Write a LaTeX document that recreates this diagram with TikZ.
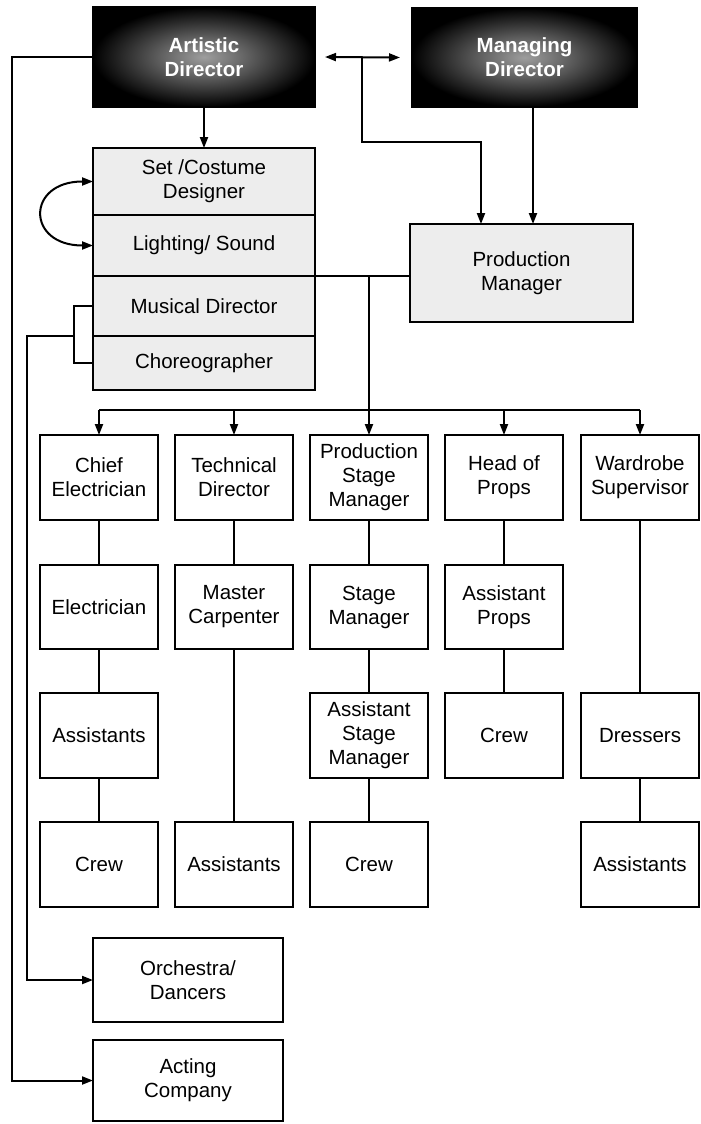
\documentclass[tikz,border=0pt]{standalone}
\usepackage{fontspec}
\setmainfont{Liberation Sans}
\usetikzlibrary{arrows.meta,calc}
\tikzset{
  ln/.style={line width=2pt},
  arr/.style={ln,-{Triangle[length=11pt,width=8pt]}},
  arrtwo/.style={ln,{Triangle[length=11pt,width=8pt]}-{Triangle[length=11pt,width=8pt]}},
  box/.style={draw,line width=2pt,inner sep=0pt,outer sep=0pt,align=center,
    font=\fontsize{20.5}{24}\selectfont,minimum width=118pt,minimum height=85pt},
  stip/.style={box,fill=black!7,minimum width=222pt},
  dark/.style={draw,line width=2pt,inner sep=0pt,outer sep=0pt,align=center,
    text=white,font=\fontsize{20.5}{24}\selectfont\bfseries,
    path picture={\shade[inner color=black!38,outer color=black]
      (path picture bounding box.south west) rectangle (path picture bounding box.north east);}},
}
\begin{document}
\begin{tikzpicture}[x=1pt,y=-1pt]
\useasboundingbox[fill=white] (0,0) rectangle (701,1124);
% top
\node[dark,minimum width=222pt,minimum height=100pt] (ad) at (204,57) {Artistic\\Director};
\node[dark,minimum width=225pt,minimum height=99pt] (md) at (524.5,57.5) {Managing\\Director};
% design stack
\node[stip,minimum height=67pt] (set) at (204,181.5) {Set /Costume\\Designer};
\node[stip,minimum height=61pt] (light) at (204,245.5) {Lighting/ Sound};
\node[stip,minimum height=60pt] (mus) at (204,306) {Musical Director};
\node[stip,minimum height=54pt] (chor) at (204,363) {Choreographer};
% production manager
\node[stip,minimum width=223pt,minimum height=98pt] (pm) at (521.5,273) {Production\\Manager};
% department columns
\node[box] (ce) at (99,477.5) {Chief\\Electrician};
\node[box] (td) at (234,477.5) {Technical\\Director};
\node[box] (psm) at (369,477.5) {Production\\Stage\\Manager};
\node[box] (hp) at (504,477.5) {Head of\\Props};
\node[box] (ws) at (640,477.5) {Wardrobe\\Supervisor};
\node[box,minimum height=84pt] (el) at (99,607) {Electrician};
\node[box,minimum height=84pt] (mc) at (234,607) {Master\\Carpenter};
\node[box,minimum height=84pt] (sm) at (369,607) {Stage\\Manager};
\node[box,minimum height=84pt] (ap) at (504,607) {Assistant\\Props};
\node[box] (as1) at (99,735.5) {Assistants};
\node[box] (asm) at (369,735.5) {Assistant\\Stage\\Manager};
\node[box] (cr4) at (504,735.5) {Crew};
\node[box] (dr) at (640,735.5) {Dressers};
\node[box] (cr1) at (99,864.5) {Crew};
\node[box] (as2) at (234,864.5) {Assistants};
\node[box] (cr3) at (369,864.5) {Crew};
\node[box] (as5) at (640,864.5) {Assistants};
% performers
\node[box,minimum width=190pt,minimum height=84pt] (orch) at (188,980) {Orchestra/\\Dancers};
\node[box,minimum width=190pt,minimum height=81pt] (act) at (188,1080.5) {Acting\\Company};
% helper coordinates
\coordinate (J) at (362,0);
\coordinate (K) at (481,142);
\coordinate (M) at (533,0);
\coordinate (L1) at (12,0);
\coordinate (L2) at (27,0);
\coordinate (B) at (74,0);
\coordinate (bus) at (0,410);
% top connectors
\draw[arrtwo] ([xshift=10pt]ad.east) -- ([xshift=-12pt]md.west);
\draw[arr] (ad.east -| J) |- (K) -- (K |- pm.north);
\draw[arr] (md.south -| M) -- (pm.north -| M);
\draw[arr] (ad.south) -- (set.north);
\draw[arrtwo] (set.west) .. controls +(-67,0) and +(-67,0) .. (light.west);
% production manager to bus
\draw[ln] (light.south east) -- (light.south east -| pm.west);
\draw[arr] (light.south east -| psm.north) -- (psm.north);
\draw[ln] (bus -| ce.north) -- (bus -| ws.north);
\foreach \n in {ce,td,hp,ws} \draw[arr] (bus -| \n.north) -- (\n.north);
% columns
\draw[ln] (ce.south) -- (el.north);
\draw[ln] (el.south) -- (as1.north);
\draw[ln] (as1.south) -- (cr1.north);
\draw[ln] (td.south) -- (mc.north);
\draw[ln] (mc.south) -- (as2.north);
\draw[ln] (psm.south) -- (sm.north);
\draw[ln] (sm.south) -- (asm.north);
\draw[ln] (asm.south) -- (cr3.north);
\draw[ln] (hp.south) -- (ap.north);
\draw[ln] (ap.south) -- (cr4.north);
\draw[ln] (ws.south) -- (dr.north);
\draw[ln] (dr.south) -- (as5.north);
% left connectors
\draw[arr] (ad.west) -- (ad.west -| L1) |- (act.west);
\draw[ln] (mus.west) -- (mus.west -| B) -- (chor.west -| B) -- (chor.west);
\draw[arr] (mus.south -| B) -- (mus.south -| L2) |- (orch.west);
\end{tikzpicture}
\end{document}
